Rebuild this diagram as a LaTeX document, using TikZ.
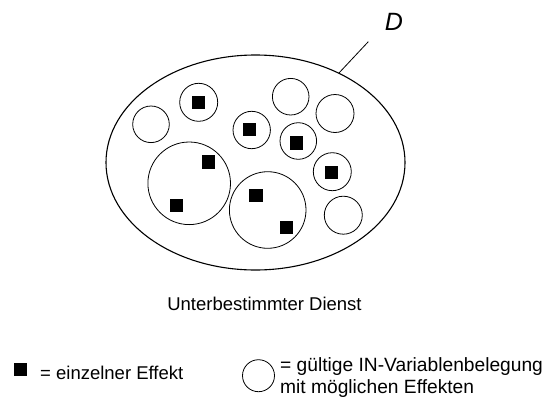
\documentclass[tikz,border=0pt]{standalone}
\usepackage{fontspec}
\setmainfont{Liberation Sans}
\usetikzlibrary{shapes.geometric, positioning}

\tikzset{
  menge/.style={draw, circle, line width=0.8pt, inner sep=0pt},
  effekt/.style={fill=black, inner sep=0pt, minimum size=13.5pt},
  schrift/.style={font=\fontsize{18.5}{18}\selectfont, inner sep=0pt}
}

\begin{document}
\begin{tikzpicture}[x=1pt, y=-1pt]
    \useasboundingbox (0,0) rectangle (544,399);

    % Dienst D
    \node[draw, ellipse, line width=1.1pt, minimum width=299pt, minimum height=215pt, inner sep=0pt] (dom) at (255.5,162.5) {};
    \node[font=\fontsize{25}{30}\selectfont\itshape, inner sep=0pt] (dname) at (394,22) {D};
    \coordinate (dend) at (368.3,41.7);
    \draw[line width=0.8pt] (dom.47) -- (dend);

    % Variablenbelegungen ohne Effekt
    \node[menge, minimum size=36.6pt] (b1) at (151,124.3) {};
    \node[menge, minimum size=36.6pt] (b2) at (290.7,96.7) {};
    \node[menge, minimum size=38pt] (b3) at (335,113.5) {};
    \node[menge, minimum size=38pt] (b4) at (343.3,215.2) {};

    % Variablenbelegungen mit Effekten
    \node[menge, minimum size=38pt] (b5) at (198.7,102.3) {};
    \node[menge, minimum size=37.4pt] (b6) at (251.7,130) {};
    \node[menge, minimum size=36.6pt] (b7) at (298.3,141) {};
    \node[menge, minimum size=38pt] (b8) at (332.3,171.7) {};
    \node[menge, minimum size=82.6pt] (b9) at (189.2,183.3) {};
    \node[menge, minimum size=76.6pt] (b10) at (267.7,210) {};

    % Effekte
    \node[effekt] (e1) at (198.5,102.3) {};
    \node[effekt] (e2) at (249.5,129.3) {};
    \node[effekt] (e3) at (296.7,143) {};
    \node[effekt] (e4) at (331.7,172.7) {};
    \node[effekt] (e5) at (208.5,162) {};
    \node[effekt] (e6) at (176.7,205.7) {};
    \node[effekt] (e7) at (256,195.7) {};
    \node[effekt, minimum size=12.5pt] (e8) at (286.7,227.3) {};

    % Unterschrift
    \node[schrift] (titel) at (264.5,304) {Unterbestimmter Dienst};

    % Legende
    \node[effekt, minimum size=12.4pt] (legeffekt) at (20.5,369.5) {};
    \node[schrift, anchor=west] (legtext1) at (40,372.5) {= einzelner Effekt};
    \node[menge, minimum size=32pt] (legmenge) at (258.5,375.7) {};
    \node[schrift, font=\fontsize{19.2}{22}\selectfont, anchor=west, align=left] (legtext2) at (280,378) {= gültige IN-Variablenbelegung\\mit möglichen Effekten};
\end{tikzpicture}
\end{document}
